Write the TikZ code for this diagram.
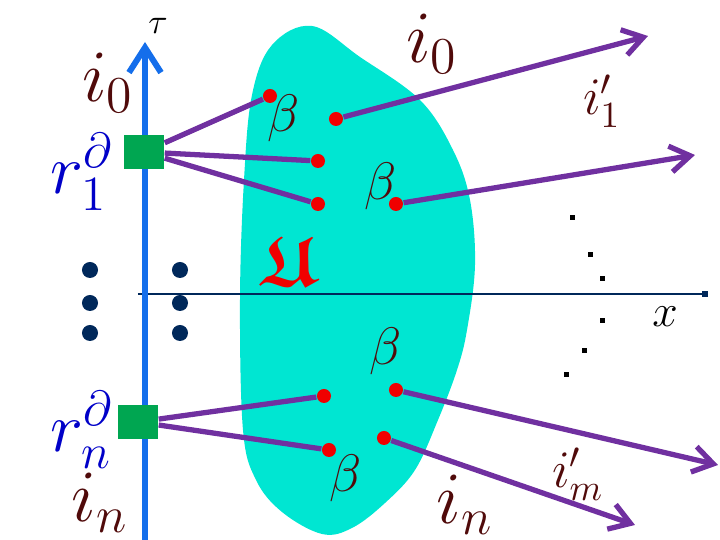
\RequirePackage{fix-cm}
\documentclass[tikz,border=0pt]{standalone}
\usepackage{amssymb}
\usetikzlibrary{arrows.meta}
\definecolor{axisblue}{RGB}{20,110,235}
\definecolor{legpurple}{RGB}{112,48,160}
\definecolor{blobcyan}{RGB}{0,230,210}
\definecolor{srcgreen}{RGB}{0,166,81}
\definecolor{dotred}{RGB}{240,0,0}
\definecolor{labbrown}{RGB}{80,10,10}
\definecolor{rblue}{RGB}{0,0,200}
\definecolor{dotnavy}{RGB}{0,40,90}

\begin{document}
\begin{tikzpicture}[
    x=0.01cm, y=-0.01cm,
    vtx/.style={circle, fill=dotred, inner sep=0pt, minimum size=0.14cm},
    src/.style={rectangle, fill=srcgreen, inner sep=0pt, minimum width=0.4cm, minimum height=0.33cm},
    leg/.style={line width=1.5pt, draw=legpurple},
    outarr/.style={leg, -{Straight Barb[length=2mm, width=2.6mm]}},
    ell/.style={circle, fill=dotnavy, inner sep=0pt, minimum size=0.16cm},
    tick/.style={rectangle, fill=black, inner sep=0pt, minimum size=0.05cm},
    lab/.style={inner sep=0pt},
    big/.style={lab, font=\fontsize{21}{25}\selectfont, text=labbrown},
    mid/.style={lab, font=\fontsize{15}{18}\selectfont, text=labbrown},
    rlab/.style={lab, font=\fontsize{20}{24}\selectfont, text=rblue}
]
    \useasboundingbox (0,0) rectangle (720,540);

    % region
    \fill[blobcyan] plot[smooth cycle, tension=0.6] coordinates {
        (312,26) (360,57) (420,100) (453,150) (470,200) (475,265) (467,330)
        (457,370) (438,420) (415,470) (385,503) (352,528) (322,534) (282,512)
        (256,480) (243,430) (240,300) (244,180) (252,95) (272,45)};

    % axes
    \coordinate (tbot) at (145,540);
    \coordinate (ttop) at (145,42);
    \coordinate (xl) at (138,294);
    \coordinate (xr) at (708,294);
    \draw[line width=0.45pt, dotnavy, -{Square[length=0.6mm, width=0.6mm]}] (xl) -- (xr);
    \draw[line width=1.7pt, axisblue, -{Straight Barb[length=2.5mm, width=3.2mm]}] (tbot) -- (ttop);

    % boundary sources
    \node[src] (s1) at (144,152) {};
    \node[src] (sn) at (138,422) {};

    % vertices
    \node[vtx] (a1) at (270,96) {};
    \node[vtx] (a2) at (336,119) {};
    \node[vtx] (a3) at (318,161) {};
    \node[vtx] (a4) at (318,204) {};
    \node[vtx] (a5) at (396,204) {};
    \node[vtx] (b1) at (324,396) {};
    \node[vtx] (b2) at (329,450) {};
    \node[vtx] (b3) at (396,390) {};
    \node[vtx] (b4) at (384,438) {};

    % outgoing ends
    \coordinate (o1) at (648,36);
    \coordinate (o2) at (695,155);
    \coordinate (o3) at (718,465);
    \coordinate (o4) at (635,525);

    \draw[leg] (s1) -- (a1);
    \draw[leg] (s1) -- (a3);
    \draw[leg] (s1) -- (a4);
    \draw[leg] (sn) -- (b1);
    \draw[leg] (sn) -- (b2);
    \draw[outarr] (a2) -- (o1);
    \draw[outarr] (a5) -- (o2);
    \draw[outarr] (b3) -- (o3);
    \draw[outarr] (b4) -- (o4);

    % ellipsis dots
    \foreach \yy [count=\k] in {270,303,333} {
        \node[ell] (el\k) at (90,\yy) {};
        \node[ell] (er\k) at (180,\yy) {};
    }
    \foreach \px/\py [count=\k] in {573/218, 591/255, 603/279, 603/321, 585/351, 567/375}
        \node[tick] (tk\k) at (\px,\py) {};

    % labels
    \node[lab, font=\fontsize{10}{12}\selectfont] (ltau) at (158,26) {$\tau$};
    \node[lab, font=\fontsize{13}{16}\selectfont] (lx) at (665,317) {$x$};
    \node[big] (li0a) at (108,83) {$i_0$};
    \node[big] (li0b) at (432,44) {$i_0$};
    \node[big] (lina) at (100,503) {$i_n$};
    \node[big] (linb) at (465,505) {$i_n$};
    \node[rlab] (lr1) at (82,172) {$r_1^\partial$};
    \node[rlab] (lrn) at (82,430) {$r_n^\partial$};
    \node[mid] (lip1) at (602,101) {$i'_1$};
    \node[mid] (lipm) at (578,474) {$i'_m$};
    \node[mid] (lb1) at (284,118) {$\beta$};
    \node[mid] (lb2) at (381,186) {$\beta$};
    \node[mid] (lb3) at (386,351) {$\beta$};
    \node[mid] (lb4) at (346,478) {$\beta$};
    \node[lab, font=\fontsize{20}{24}\selectfont\boldmath, text=dotred] (lU) at (288,261) {$\mathfrak{U}$};
\end{tikzpicture}
\end{document}
